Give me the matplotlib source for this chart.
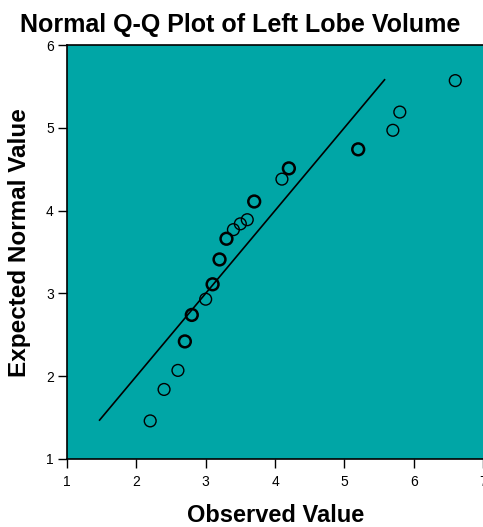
import matplotlib
matplotlib.use("Agg")
import matplotlib.pyplot as plt

plt.rcParams['font.family'] = ['Liberation Sans', 'DejaVu Sans']

observed = [2.2, 2.4, 2.6, 2.7, 2.8, 3.0, 3.1, 3.2, 3.3, 3.4, 3.5, 3.6, 3.7,
            4.1, 4.2, 5.2, 5.7, 5.8, 6.6]
expected = [1.46, 1.84, 2.07, 2.42, 2.74, 2.93, 3.11, 3.41, 3.66, 3.77, 3.84,
            3.89, 4.11, 4.38, 4.51, 4.74, 4.97, 5.19, 5.57]
# tied cases draw darker circles
ties = [1, 1, 1, 2, 2, 1, 2, 2, 2, 1, 1, 1, 2, 1, 2, 2, 1, 1, 1]

line_range = [1.47, 5.58]
ticks = [1, 2, 3, 4, 5, 6, 7]
yticks = [1, 2, 3, 4, 5, 6]

W, H = 483, 527
fig = plt.figure(figsize=(W / 100, H / 100), dpi=100)
ax = fig.add_axes([67 / W, 1 - 459 / H, 416 / W, 414 / H])
ax.set_facecolor('#00A6A6')

ax.plot(line_range, line_range, color='black', lw=1.2)
for x, y, n in zip(observed, expected, ties):
    ax.scatter([x], [y], s=72, facecolors='none', edgecolors='black',
               linewidths=1.0 if n == 1 else 1.8, zorder=3)

ax.set_xlim(1, 7)
ax.set_ylim(1, 6)
ax.set_xticks(ticks)
ax.set_yticks(yticks)
ax.tick_params(direction='out', length=6.5, width=1, labelsize=10, pad=3)
ax.tick_params(axis='x', pad=5)
for s in ax.spines.values():
    s.set_linewidth(1.2)
ax.spines['right'].set_visible(False)

fig.text(240 / W, 1 - 32 / H, 'Normal Q-Q Plot of Left Lobe Volume',
         fontsize=18, fontweight='bold', ha='center', va='baseline')
fig.text(276 / W, 1 - 522 / H, 'Observed Value', fontsize=17,
         fontweight='bold', ha='center', va='baseline')
fig.text(20 / W, 1 - 243 / H, 'Expected Normal Value', fontsize=17.5,
         fontweight='bold', ha='center', va='center', rotation=90)

fig.savefig('out.png', dpi=100)
